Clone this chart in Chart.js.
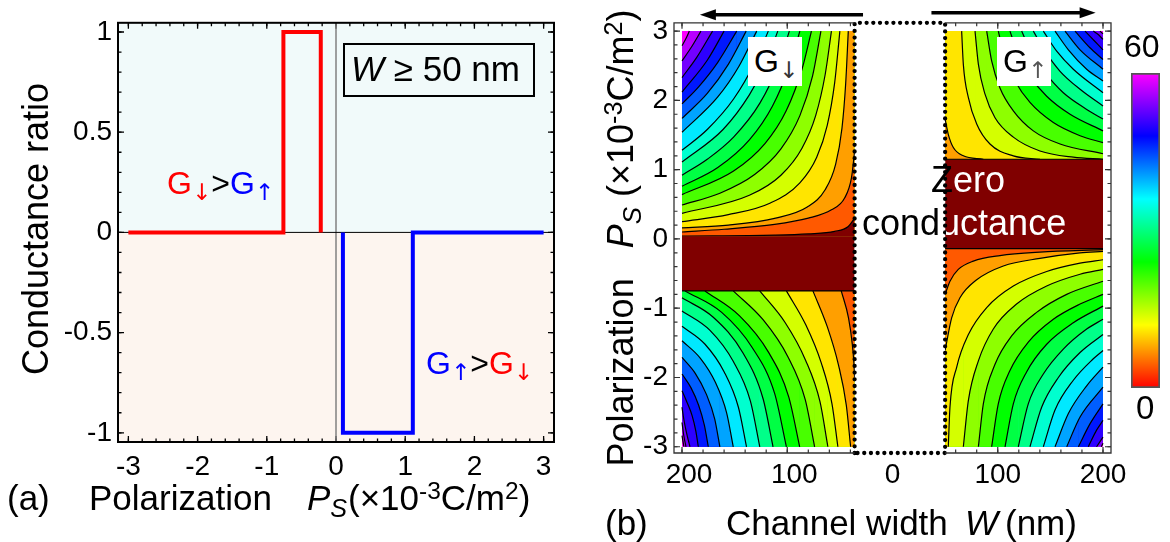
<!DOCTYPE html>
<html>
<head>
<meta charset="utf-8">
<script src="https://cdn.jsdelivr.net/npm/chart.js@4.4.1/dist/chart.umd.min.js"></script>
<style>
  body { margin:0; width:1170px; height:542px; position:relative; overflow:hidden; background:#fff;
         font-family:'Liberation Sans', Arial, sans-serif; }
  canvas { position:absolute; }
  .t { position:absolute; white-space:nowrap; line-height:1; color:#000; }
  .t sup { font-size:.7em; vertical-align:.45em; line-height:0; }
  .t sub { font-size:.72em; vertical-align:-.28em; line-height:0; }
  .fl { font-family:'DejaVu Sans', sans-serif; }
  .caja { position:absolute; box-sizing:border-box; }
</style>
</head>
<body>
<canvas id="ga" width="585" height="542" style="left:0;top:0"></canvas>
<canvas id="gb" width="585" height="542" style="left:585px;top:0"></canvas>
<canvas id="barra" width="29" height="315" style="left:1131px;top:73px"></canvas>
<script>
Chart.defaults.font.family = "'Liberation Sans', Arial, sans-serif";
Chart.defaults.color = '#000';
Chart.defaults.animation = false;

// ---------- (a) razón de conductancia ----------
const polRojo = [-3, -0.76, -0.76, -0.22, -0.22];
const razonRojo = [0, 0, 1, 1, 0];
const polAzul = [0.1, 0.1, 1.11, 1.11, 3];
const razonAzul = [0, -1, -1, 0, 0];
const ticksPol = [-3, -2, -1, 0, 1, 2, 3];
const ticksRazon = [-1, -0.5, 0, 0.5, 1];

// ---------- (b) mapa de contornos ----------
const ticksW = [-200, -100, 0, 100, 200];
const ticksP = [-3, -2, -1, 0, 1, 2, 3];
const rangoW = [-200, 200];
const rangoP = [-3, 3];
const hueco = [-36, 50];          // zona sin datos (recuadro punteado)
const bandaIzq = [-0.75, 0.04];   // conductancia cero, lado G↓
const bandaDer = [-0.14, 1.15];   // conductancia cero, lado G↑
const escala = [0, 60];
const flechas = [[-28, -183], [37, 193]];

// n = nivel del lado interior de cada contorno (-1 = cero), de fuera hacia dentro
const cSupIzq = [
  {n: 16, p: [[-200, 2.79], [-196, 2.90], [-193, 3.0]]},
  {n: 15, p: [[-200, 2.57], [-191, 2.77], [-182, 3.0]]},
  {n: 14, p: [[-200, 2.33], [-186, 2.62], [-171, 3.0]]},
  {n: 13, p: [[-200, 2.12], [-176, 2.58], [-160, 3.0]]},
  {n: 12, p: [[-200, 1.95], [-184, 2.20], [-166, 2.55], [-148, 3.0]]},
  {n: 11, p: [[-200, 1.74], [-176, 2.10], [-156, 2.52], [-139, 3.0]]},
  {n: 10, p: [[-200, 1.54], [-166, 2.05], [-146, 2.49], [-129, 3.0]]},
  {n: 9, p: [[-200, 1.28], [-176, 1.58], [-151, 2.02], [-131, 2.54], [-118, 3.0]]},
  {n: 8, p: [[-200, 1.11], [-161, 1.58], [-136, 2.08], [-121, 2.51], [-109, 3.0]]},
  {n: 7, p: [[-200, 0.92], [-176, 1.15], [-151, 1.47], [-126, 1.96], [-108, 2.53], [-98, 3.0]]},
  {n: 6, p: [[-200, 0.76], [-166, 1.03], [-136, 1.43], [-114, 1.92], [-98, 2.49], [-88, 3.0]]},
  {n: 5, p: [[-200, 0.64], [-151, 0.98], [-121, 1.38], [-101, 1.85], [-86, 2.45], [-77, 3.0]]},
  {n: 4, p: [[-200, 0.49], [-164, 0.66], [-131, 0.93], [-106, 1.30], [-88, 1.78], [-76, 2.35], [-68, 3.0]]},
  {n: 3, p: [[-200, 0.37], [-136, 0.63], [-106, 0.92], [-86, 1.31], [-73, 1.78], [-64, 2.37], [-58, 3.0]]},
  {n: 2, p: [[-200, 0.25], [-156, 0.35], [-116, 0.52], [-88, 0.81], [-72, 1.18], [-62, 1.64], [-55, 2.25], [-50, 3.0]]},
  {n: 1, p: [[-200, 0.16], [-156, 0.20], [-111, 0.30], [-81, 0.46], [-64, 0.71], [-54, 1.08], [-48, 1.60], [-44.5, 2.24], [-42, 3.0]]},
  {n: 0, p: [[-200, 0.10], [-160, 0.14], [-112, 0.21], [-80, 0.30], [-58, 0.42], [-45.5, 0.59], [-39, 0.88], [-36, 1.26]]},
  {n: -1, p: [[-200, 0.04], [-112, 0.054], [-80, 0.073], [-55, 0.11], [-42, 0.18], [-36, 0.30]]},
];
const cInfIzq = [
  {n: 16, p: [[-200, -2.84], [-198.2, -3.0]]},
  {n: 15, p: [[-200, -2.65], [-198.4, -2.83], [-196.2, -3.0]]},
  {n: 14, p: [[-200, -2.43], [-198.2, -2.61], [-195.7, -2.80], [-192.4, -3.0]]},
  {n: 13, p: [[-200, -2.19], [-195.2, -2.36], [-190.4, -2.55], [-186.9, -2.77], [-184.5, -3.0]]},
  {n: 12, p: [[-200, -1.95], [-191.4, -2.15], [-184.2, -2.40], [-178.7, -2.69], [-175.0, -3.0]]},
  {n: 11, p: [[-200, -1.71], [-187.4, -1.94], [-176.9, -2.24], [-168.9, -2.60], [-164.0, -3.0]]},
  {n: 10, p: [[-200, -1.47], [-182.7, -1.72], [-168.3, -2.07], [-157.6, -2.51], [-151.3, -3.0]]},
  {n: 9, p: [[-200, -1.26], [-178.1, -1.52], [-159.9, -1.92], [-146.4, -2.43], [-138.7, -3.0]]},
  {n: 8, p: [[-200, -1.04], [-173.4, -1.32], [-151.2, -1.77], [-135.0, -2.34], [-126.1, -3.0]]},
  {n: 7, p: [[-200, -0.85], [-170.3, -1.13], [-141.9, -1.65], [-122.9, -2.31], [-113.5, -3.0]]},
  {n: 6, p: [[-197.1, -0.75], [-162.3, -1.06], [-133.2, -1.57], [-112.0, -2.23], [-100.8, -3.0]]},
  {n: 5, p: [[-178.2, -0.75], [-145.3, -1.11], [-118.0, -1.63], [-98.6, -2.28], [-88.2, -3.0]]},
  {n: 4, p: [[-151.3, -0.75], [-122.8, -1.17], [-99.4, -1.70], [-82.9, -2.32], [-74.0, -3.0]]},
  {n: 3, p: [[-126.1, -0.75], [-101.9, -1.21], [-82.6, -1.75], [-68.9, -2.35], [-61.4, -3.0]]},
  {n: 2, p: [[-100.8, -0.75], [-82.4, -1.24], [-67.7, -1.79], [-57.5, -2.38], [-51.9, -3.0]]},
  {n: 1, p: [[-75.6, -0.75], [-61.9, -1.27], [-51.3, -1.82], [-43.9, -2.40], [-39.8, -3.0]]},
  {n: 0, p: [[-48.7, -0.75], [-41.8, -1.14], [-38.2, -1.52], [-36.6, -1.81], [-36, -2.0]]},
];
const cSupDer = [
  {n: 15, p: [[197.1, 3.0], [200, 2.96]]},
  {n: 14, p: [[190.8, 3.0], [195.5, 2.95], [200, 2.88]]},
  {n: 13, p: [[182.9, 3.0], [192.4, 2.85], [200, 2.73]]},
  {n: 12, p: [[173.4, 3.0], [187.6, 2.76], [200, 2.59]]},
  {n: 11, p: [[163.9, 3.0], [178.2, 2.73], [200, 2.45]]},
  {n: 10, p: [[154.4, 3.0], [167.1, 2.73], [184.5, 2.45], [200, 2.28]]},
  {n: 9, p: [[143.3, 3.0], [156.0, 2.71], [171.8, 2.45], [200, 2.11]]},
  {n: 8, p: [[133.8, 3.0], [144.9, 2.71], [159.2, 2.42], [178.2, 2.16], [200, 1.92]]},
  {n: 7, p: [[122.7, 3.0], [132.2, 2.68], [144.9, 2.40], [162.3, 2.11], [184.5, 1.87], [200, 1.73]]},
  {n: 6, p: [[111.6, 3.0], [119.5, 2.66], [130.6, 2.35], [146.5, 2.06], [168.7, 1.80], [200, 1.56]]},
  {n: 5, p: [[100.5, 3.0], [106.9, 2.61], [116.4, 2.28], [130.6, 1.97], [152.8, 1.68], [178.2, 1.49], [200, 1.39]]},
  {n: 4, p: [[89.5, 3.0], [94.2, 2.57], [102.1, 2.18], [114.8, 1.85], [133.8, 1.56], [159.2, 1.37], [200, 1.23]]},
  {n: 3, p: [[78.4, 3.0], [81.6, 2.52], [87.9, 2.09], [97.4, 1.75], [114.8, 1.47], [140.1, 1.27], [171.8, 1.18], [200, 1.15]]},
  {n: 2, p: [[65.7, 3.0], [67.3, 2.52], [72.1, 2.04], [80.0, 1.66], [92.6, 1.37], [114.8, 1.20], [140.1, 1.15]]},
  {n: 1, p: [[50, 1.73], [53.0, 1.51], [57.8, 1.32], [67.3, 1.20], [86.3, 1.15]]},
];
const cInfDer = [
  {n: 15, p: [[198.4, -3.0], [200, -2.95]]},
  {n: 14, p: [[193.9, -3.0], [200, -2.86]]},
  {n: 13, p: [[186.0, -3.0], [193.9, -2.76], [200, -2.62]]},
  {n: 12, p: [[176.6, -3.0], [187.6, -2.67], [200, -2.38]]},
  {n: 11, p: [[165.5, -3.0], [178.2, -2.57], [200, -2.14]]},
  {n: 10, p: [[154.4, -3.0], [167.1, -2.52], [184.5, -2.12], [200, -1.85]]},
  {n: 9, p: [[143.3, -3.0], [154.4, -2.47], [171.8, -2.04], [190.8, -1.73], [200, -1.61]]},
  {n: 8, p: [[130.6, -3.0], [141.7, -2.43], [157.6, -2.00], [178.2, -1.64], [200, -1.38]]},
  {n: 7, p: [[119.5, -3.0], [129.0, -2.38], [143.3, -1.95], [162.3, -1.59], [184.5, -1.30], [200, -1.16]]},
  {n: 6, p: [[106.9, -3.0], [114.8, -2.38], [127.4, -1.92], [146.5, -1.52], [171.8, -1.21], [200, -0.97]]},
  {n: 5, p: [[94.2, -3.0], [100.5, -2.38], [111.6, -1.90], [129.0, -1.49], [152.8, -1.16], [178.2, -0.94], [200, -0.80]]},
  {n: 4, p: [[81.6, -3.0], [86.3, -2.38], [97.4, -1.81], [113.2, -1.40], [136.9, -1.06], [165.5, -0.80], [200, -0.61]]},
  {n: 3, p: [[67.3, -3.0], [72.1, -2.33], [81.6, -1.76], [95.8, -1.30], [117.9, -0.94], [146.5, -0.68], [178.2, -0.51], [200, -0.44]]},
  {n: 2, p: [[53.0, -3.0], [54.6, -2.43], [61.0, -1.85], [72.1, -1.38], [89.5, -0.99], [114.8, -0.68], [146.5, -0.47], [178.2, -0.35], [200, -0.30]]},
  {n: 1, p: [[50, -1.61], [56.2, -1.14], [64.1, -0.85], [80.0, -0.59], [105.3, -0.39], [140.1, -0.28], [178.2, -0.20], [200, -0.18]]},
  {n: 0, p: [[50, -0.80], [54.6, -0.61], [62.5, -0.44], [76.8, -0.32], [102.1, -0.24], [140.1, -0.19], [200, -0.155]]},
];

const oscuro = '#800000';
const colores = ['#ff5900', '#ff9f00', '#ffe500', '#d4ff00', '#8eff00', '#48ff00', '#00ff00', '#00ff44', '#00ff89',
                 '#00ffcf', '#00e9ff', '#00a4ff', '#005eff', '#0018ff', '#2d00ff', '#7300ff', '#b900ff', '#ff00ff'];
const xy = (xs, ys) => xs.map((x, i) => ({x, y: ys[i]}));
const pts = p => p.map(([x, y]) => ({x, y}));

// marcas hacia dentro del marco (estilo Mathematica)
function marcas(ch, mx, my, largo) {
  const {ctx, chartArea: a, scales: {x, y}} = ch;
  const paso = (r, d) => { const v = []; for (let t = r[0]; t <= r[1] + 1e-9; t += d) v.push(t); return v; };
  const dib = (vals, l, eje) => vals.forEach(v => {
    ctx.beginPath();
    if (eje === 'x') {
      const px = x.getPixelForValue(v);
      if (px < a.left || px > a.right) return;
      ctx.moveTo(px, a.bottom); ctx.lineTo(px, a.bottom - l);
      ctx.moveTo(px, a.top); ctx.lineTo(px, a.top + l);
    } else {
      const py = y.getPixelForValue(v);
      if (py < a.top || py > a.bottom) return;
      ctx.moveTo(a.left, py); ctx.lineTo(a.left + l, py);
      ctx.moveTo(a.right, py); ctx.lineTo(a.right - l, py);
    }
    ctx.stroke();
  });
  dib(paso(mx.rango, mx.menor), largo[1], 'x');
  dib(mx.mayor, largo[0], 'x');
  dib(paso(my.rango, my.menor), largo[1], 'y');
  dib(my.mayor, largo[0], 'y');
}

// ---------- gráfica (a) ----------
const pluginA = {
  id: 'marcoA',
  beforeDatasetsDraw(ch) {
    const {ctx, chartArea: a, scales: {y}} = ch;
    const y0 = y.getPixelForValue(0);
    ctx.save();
    ctx.fillStyle = '#f1fafa';
    ctx.fillRect(a.left, a.top, a.width, y0 - a.top);
    ctx.fillStyle = '#fdf5ef';
    ctx.fillRect(a.left, y0, a.width, a.bottom - y0);
    ctx.strokeStyle = '#000'; ctx.lineWidth = 1.3;
    marcas(ch, {rango: [-3, 3], menor: 0.2, mayor: ticksPol}, {rango: [-1, 1], menor: 0.1, mayor: ticksRazon}, [6, 3.5]);
    ctx.restore();
  },
  afterDatasetsDraw(ch) {
    const {ctx, chartArea: a} = ch;
    ctx.save();
    ctx.strokeStyle = '#000'; ctx.lineWidth = 2;
    ctx.strokeRect(a.left, a.top, a.width, a.height);
    ctx.restore();
  }
};

new Chart(document.getElementById('ga'), {
  type: 'line',
  data: {
    datasets: [
      {data: xy(polRojo, razonRojo), borderColor: '#ff0000', borderWidth: 4},
      {data: xy(polAzul, razonAzul), borderColor: '#0000ff', borderWidth: 4},
      {data: xy([-3.15, 3.15], [0, 0]), borderColor: '#000', borderWidth: 1},
      {data: xy([0, 0], [-1.046, 1.046]), borderColor: '#808080', borderWidth: 1.5},
    ]
  },
  options: {
    responsive: false, events: [], devicePixelRatio: 1,
    elements: {point: {radius: 0}, line: {borderJoinStyle: 'miter', fill: false}},
    layout: {padding: {left: 0, right: 31, top: 13, bottom: 0}},
    plugins: {legend: {display: false}, tooltip: {enabled: false}},
    scales: {
      x: {
        type: 'linear', min: -3.15, max: 3.15,
        afterBuildTicks: s => { s.ticks = ticksPol.map(v => ({value: v})); },
        afterFit: s => { s.height = 100; },
        ticks: {autoSkip: false, maxRotation: 0, padding: 8, font: {size: 28}, callback: v => String(v)},
        grid: {display: false, drawTicks: false}, border: {display: false}
      },
      y: {
        min: -1.046, max: 1.046,
        afterBuildTicks: s => { s.ticks = ticksRazon.map(v => ({value: v})); },
        afterFit: s => { s.width = 118; },
        ticks: {autoSkip: false, padding: 6, font: {size: 28}, callback: v => String(v)},
        grid: {display: false, drawTicks: false}, border: {display: false}
      }
    }
  },
  plugins: [pluginA]
});

// ---------- gráfica (b) ----------
const sets = [];
function relleno(p, hasta, color, borde) {
  sets.push({
    data: pts(p), fill: {value: hasta}, backgroundColor: color,
    borderColor: borde ? '#000' : 'transparent', borderWidth: borde ? 1.2 : 0,
    cubicInterpolationMode: 'monotone'
  });
}
function cuadrante(lineas, wHueco, wBorde, pBorde, pBanda, fondo) {
  relleno([[Math.min(wHueco, wBorde), pBorde], [Math.max(wHueco, wBorde), pBorde]], pBanda, colores[fondo], 0);
  lineas.forEach(l => {
    const col = l.n < 0 ? oscuro : colores[l.n];
    // si el contorno toca el borde superior/inferior, se rellena hasta el hueco
    const ext = [l.p[0], l.p[l.p.length - 1]].find(q => q[1] === pBorde);
    if (ext) {
      const a = ext[0] - Math.sign(wHueco - ext[0]) * 0.5;
      relleno([[Math.min(a, wHueco), pBorde], [Math.max(a, wHueco), pBorde]], pBanda, col, 0);
    }
    relleno(l.p, pBanda, col, 1);
  });
}
cuadrante(cSupIzq, hueco[0], rangoW[0], rangoP[1], bandaIzq[1], 17);
cuadrante(cInfIzq, hueco[0], rangoW[0], rangoP[0], bandaIzq[0], 17);
cuadrante(cSupDer, hueco[1], rangoW[1], rangoP[1], bandaDer[1], 17);
cuadrante(cInfDer, hueco[1], rangoW[1], rangoP[0], bandaDer[0], 17);
relleno([[rangoW[0], bandaIzq[1]], [hueco[0], bandaIzq[1]]], bandaIzq[0], oscuro, 0);
relleno([[hueco[1], bandaDer[1]], [rangoW[1], bandaDer[1]]], bandaDer[0], oscuro, 0);
[[rangoW[0], hueco[0], bandaIzq[0]], [hueco[1], rangoW[1], bandaDer[1]], [hueco[1], rangoW[1], bandaDer[0]]]
  .forEach(([a, b, p]) => sets.push({data: pts([[a, p], [b, p]]), borderColor: '#000', borderWidth: 1.2, fill: false}));
// hueco blanco con borde punteado
relleno([[hueco[0], 3.6], [hueco[1], 3.6]], -3.6, '#fff', 0);
const pMin = -3.09, pMax = 3.12;
sets.push({
  data: pts([[hueco[0], pMin], [hueco[0], pMax], [hueco[1], pMax], [hueco[1], pMin], [hueco[0], pMin]]),
  borderColor: '#000', borderWidth: 4.3, borderDash: [0, 6.7], borderCapStyle: 'round', fill: false, clip: 8
});
sets.forEach((d, i) => { d.order = sets.length - i; });

const pluginB = {
  id: 'marcoB',
  beforeDatasetsDraw(ch) {
    const {ctx} = ch;
    ctx.save();
    ctx.strokeStyle = '#333'; ctx.lineWidth = 1.2;
    marcas(ch, {rango: [-200, 200], menor: 20, mayor: ticksW}, {rango: [-3, 3], menor: 0.2, mayor: ticksP}, [6, 3.5]);
    ctx.restore();
  },
  afterDatasetsDraw(ch) {
    const {ctx, chartArea: a, scales: {x}} = ch;
    const h0 = x.getPixelForValue(hueco[0]), h1 = x.getPixelForValue(hueco[1]);
    ctx.save();
    ctx.strokeStyle = '#333'; ctx.lineWidth = 1.3;
    ctx.beginPath();
    ctx.moveTo(h0, a.top); ctx.lineTo(a.left, a.top); ctx.lineTo(a.left, a.bottom); ctx.lineTo(h0, a.bottom);
    ctx.moveTo(h1, a.top); ctx.lineTo(a.right, a.top); ctx.lineTo(a.right, a.bottom); ctx.lineTo(h1, a.bottom);
    ctx.stroke();
    // flechas superiores
    ctx.strokeStyle = '#000'; ctx.fillStyle = '#000'; ctx.lineWidth = 3.5;
    flechas.forEach(([w0, w1], i) => {
      const yy = a.top - (i ? 10 : 8);
      const x0 = x.getPixelForValue(w0), x1 = x.getPixelForValue(w1), d = Math.sign(x1 - x0);
      ctx.beginPath(); ctx.moveTo(x0, yy); ctx.lineTo(x1 - d * 12, yy); ctx.stroke();
      ctx.beginPath(); ctx.moveTo(x1, yy); ctx.lineTo(x1 - d * 16, yy - 5.5); ctx.lineTo(x1 - d * 16, yy + 5.5); ctx.closePath(); ctx.fill();
    });
    ctx.restore();
  }
};

new Chart(document.getElementById('gb'), {
  type: 'line',
  data: {datasets: sets},
  options: {
    responsive: false, events: [], devicePixelRatio: 1,
    elements: {point: {radius: 0}},
    layout: {padding: {left: 0, right: 59, top: 20, bottom: 0}},
    plugins: {legend: {display: false}, tooltip: {enabled: false}},
    scales: {
      x: {
        type: 'linear', min: -207.6, max: 207.6,
        afterBuildTicks: s => { s.ticks = ticksW.map(v => ({value: v})); },
        afterFit: s => { s.height = 89; },
        ticks: {autoSkip: false, maxRotation: 0, padding: 5, font: {size: 28},
                callback: v => (v < 0 ? '\u2002' : '') + Math.abs(v)},
        grid: {display: false, drawTicks: false}, border: {display: false}
      },
      y: {
        min: pMin, max: pMax,
        afterBuildTicks: s => { s.ticks = ticksP.map(v => ({value: v})); },
        afterFit: s => { s.width = 89; },
        ticks: {autoSkip: false, padding: 6, font: {size: 28}, callback: v => String(v)},
        grid: {display: false, drawTicks: false}, border: {display: false}
      }
    }
  },
  plugins: [pluginB]
});

// barra de color 0–60
new Chart(document.getElementById('barra'), {
  type: 'bar',
  data: {labels: [''], datasets: [{
    data: [escala[1]], borderColor: '#555', borderWidth: 2, borderSkipped: false,
    barPercentage: 1, categoryPercentage: 1,
    backgroundColor: c => {
      const a = c.chart.chartArea;
      if (!a) return null;
      const g = c.chart.ctx.createLinearGradient(0, a.bottom, 0, a.top);
      for (let i = 0; i <= 10; i++) g.addColorStop(i / 10, `hsl(${i * 30},100%,50%)`);
      return g;
    }
  }]},
  options: {
    responsive: false, events: [], devicePixelRatio: 1,
    layout: {padding: 0},
    plugins: {legend: {display: false}, tooltip: {enabled: false}},
    scales: {x: {display: false}, y: {display: false, min: escala[0], max: escala[1]}}
  }
});

// ---------- textos ----------
function texto(html, x, base, size, extra) {
  const d = document.createElement('div');
  d.className = 't';
  d.innerHTML = html;
  d.style.cssText = `left:${x}px;top:${base - 0.8465 * size}px;font-size:${size}px;` + (extra || '');
  document.body.appendChild(d);
  return d;
}
function textoVertical(html, cx, cy, size) {
  const d = texto(html, 0, 0, size);
  d.style.left = (cx - d.offsetWidth / 2) + 'px';
  d.style.top = (cy - d.offsetHeight / 2) + 'px';
  d.style.transform = 'rotate(-90deg)';
}
function caja(x, y, w, h, estilo) {
  const d = document.createElement('div');
  d.className = 'caja';
  d.style.cssText = `left:${x}px;top:${y}px;width:${w}px;height:${h}px;` + estilo;
  document.body.appendChild(d);
}

// (a)
textoVertical('Conductance ratio', 36, 229, 36);
texto('(a)', 7, 510, 35);
texto('Polarization', 89, 510, 35);
texto('<i>P<sub>S</sub></i>', 307, 510, 35);
texto('(×10<sup>-3</sup>C/m<sup>2</sup>)', 348, 510, 35);
texto('<span style="color:#f00">G<sub class="fl">↓</sub></span>&gt;<span style="color:#00f">G<sub class="fl">↑</sub></span>', 167, 194, 32);
texto('<span style="color:#00f">G<sub class="fl">↑</sub></span>&gt;<span style="color:#f00">G<sub class="fl">↓</sub></span>', 426, 374, 32);
caja(342.6, 43.3, 192.4, 53.6, 'border:2px solid #000;');
texto('<i>W</i> ≥ 50 nm', 351, 81, 35);

// (b)
textoVertical('Polarization<span style="margin-left:30px"></span><i>P<sub>S</sub></i> (×10<sup>-3</sup>C/m<sup>2</sup>)', 621, 238, 36);
texto('(b)', 605, 535, 35);
texto('Channel width', 726, 535, 35);
texto('<i>W</i>', 965, 535, 35);
texto('(nm)', 1005, 535, 35);
caja(748, 37, 54, 48.5, 'background:#fff;');
caja(997, 37, 54, 48.5, 'background:#fff;');
texto('G<sub class="fl" style="color:#333">↓</sub>', 754, 72, 32);
texto('G<sub class="fl" style="color:#555">↑</sub>', 1003, 72, 32);
texto('Zero', 931, 192, 36, 'clip-path:inset(0 calc(100% - 22px) 0 0);');
texto('Zero', 931, 192, 36, 'color:#fff;clip-path:inset(0 0 0 22px);');
texto('conductance', 862, 235, 36, 'clip-path:inset(0 calc(100% - 79px) 0 0);');
texto('conductance', 862, 235, 36, 'color:#fff;clip-path:inset(0 0 0 84px);');
texto('60', 1124, 57, 32);
texto('0', 1136, 419, 33);
</script>
</body>
</html>
